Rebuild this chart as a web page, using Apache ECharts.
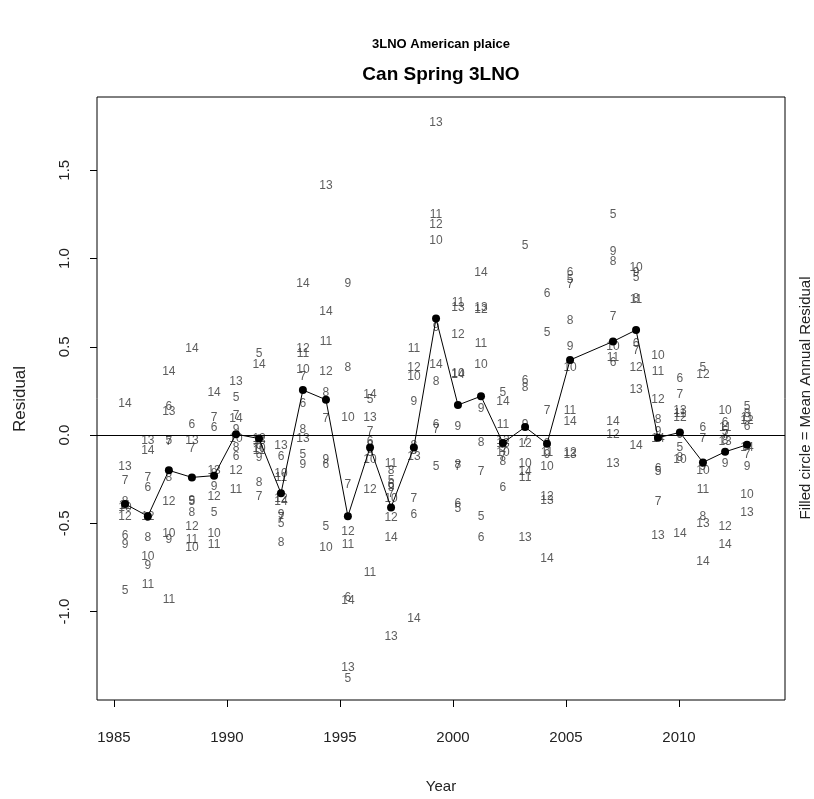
<!DOCTYPE html>
<html>
<head>
<meta charset="utf-8">
<script src="https://cdn.jsdelivr.net/npm/echarts@6/dist/echarts.min.js"></script>
<style>html,body{margin:0;padding:0;background:#fff}#c{width:814px;height:799px}</style>
</head>
<body>
<div id="c"></div>
<script>
// survey years and the plotted x position (decimal year) of each annual group
const years = [1985,1986,1987,1988,1989,1990,1991,1992,1993,1994,1995,1996,1997,1998,1999,2000,2001,2002,2003,2004,2005,2007,2008,2009,2010,2011,2012,2013];
const xPos = [1985.49,1986.50,1987.43,1988.45,1989.43,1990.40,1991.42,1992.39,1993.36,1994.38,1995.35,1996.33,1997.26,1998.27,1999.25,2000.22,2001.24,2002.21,2003.19,2004.16,2005.18,2007.08,2008.10,2009.07,2010.04,2011.06,2012.04,2013.01];
// residuals by age, one value per survey year
const res5  = [-0.88,-0.47,-0.03,-0.38,-0.44,0.21,0.46,-0.50,-0.11,-0.52,-1.38,0.20,-0.26,-0.09,-0.18,-0.42,-0.46,0.24,1.07,0.58,0.88,1.25,0.89,-0.21,-0.07,0.38,0.02,0.16];
const res6  = [-0.57,-0.30,0.16,0.06,0.04,-0.12,-0.06,-0.12,0.18,-0.17,-0.92,-0.04,-0.28,-0.45,0.06,-0.39,-0.58,-0.30,0.31,0.80,0.92,0.41,0.52,-0.19,0.32,0.04,0.07,0.05];
const res7  = [-0.26,-0.24,-0.04,-0.08,0.10,0.11,-0.35,-0.47,0.33,0.09,-0.28,0.02,-0.33,-0.36,0.03,-0.18,-0.21,-0.12,-0.03,0.14,0.85,0.67,0.48,-0.38,0.23,-0.02,0.00,-0.11];
const res8  = [-0.38,-0.58,-0.24,-0.44,-0.22,-0.07,-0.27,-0.61,0.03,0.24,0.38,-0.06,-0.20,-0.06,0.30,-0.17,-0.045,-0.15,0.27,-0.05,0.65,0.98,0.77,0.085,-0.13,-0.46,-0.03,0.12];
const res9  = [-0.62,-0.74,-0.59,-0.37,-0.29,0.03,-0.13,-0.45,-0.17,-0.14,0.86,-0.10,-0.30,0.19,0.61,0.045,0.15,-0.07,0.06,-0.11,0.50,1.04,0.92,0.02,0.00,-0.18,-0.16,-0.18];
const res10 = [-0.41,-0.69,-0.56,-0.64,-0.56,-0.02,-0.08,-0.22,0.37,-0.64,0.10,-0.14,-0.36,0.33,1.10,0.35,0.40,-0.10,-0.16,-0.18,0.38,0.50,0.95,0.45,-0.14,-0.20,0.14,-0.34];
const res11 = [-0.40,-0.85,-0.93,-0.59,-0.62,-0.31,-0.09,-0.24,0.46,0.53,-0.62,-0.78,-0.16,0.49,1.25,0.75,0.52,0.06,-0.24,-0.10,0.14,0.44,0.765,0.36,0.12,-0.31,0.04,0.10];
const res12 = [-0.46,-0.46,-0.38,-0.52,-0.35,-0.20,-0.02,-0.36,0.49,0.36,-0.55,-0.31,-0.47,0.38,1.19,0.57,0.71,-0.03,-0.05,-0.35,-0.10,0.00,0.38,0.20,0.10,0.34,-0.52,0.08];
const res13 = [-0.18,-0.03,0.13,-0.03,-0.20,0.30,-0.03,-0.06,-0.02,1.41,-1.32,0.10,-1.14,-0.12,1.77,0.72,0.72,-0.05,-0.58,-0.37,-0.11,-0.16,0.255,-0.57,0.14,-0.50,-0.04,-0.44];
const res14 = [0.18,-0.09,0.36,0.49,0.24,0.09,0.40,-0.38,0.86,0.70,-0.94,0.23,-0.58,-1.04,0.40,0.34,0.92,0.19,-0.21,-0.70,0.075,0.075,-0.06,-0.02,-0.56,-0.72,-0.62,-0.07];
const ages = [5,6,7,8,9,10,11,12,13,14];
const resByAge = [res5,res6,res7,res8,res9,res10,res11,res12,res13,res14];
// mean annual residual (filled circles)
const meanRes = [-0.39,-0.46,-0.20,-0.24,-0.23,0.005,-0.02,-0.33,0.255,0.20,-0.46,-0.07,-0.41,-0.07,0.66,0.17,0.22,-0.045,0.045,-0.05,0.425,0.53,0.595,-0.015,0.015,-0.155,-0.095,-0.055];
const xTicks = [1985,1990,1995,2000,2005,2010];
const yTicks = [-1.0,-0.5,0.0,0.5,1.0,1.5];

const FONT = '"Liberation Sans", Arial, sans-serif';
const chart = echarts.init(document.getElementById('c'));

const series = ages.map((age, k) => ({
  type: 'scatter',
  name: 'Age ' + age,
  symbolSize: 1,
  itemStyle: { color: 'rgba(0,0,0,0)' },
  silent: true,
  z: 2,
  label: {
    show: true, position: 'inside', formatter: String(age),
    fontSize: 12, fontFamily: FONT, color: '#333'
  },
  data: xPos.map((x, i) => [x, resByAge[k][i]])
}));

series.push({
  type: 'line',
  name: 'Mean',
  z: 5,
  symbol: 'circle',
  symbolSize: 8,
  itemStyle: { color: '#000' },
  lineStyle: { color: '#000', width: 1 },
  data: xPos.map((x, i) => [x, meanRes[i]]),
  markLine: {
    silent: true, symbol: 'none', label: { show: false },
    lineStyle: { color: '#000', type: 'solid', width: 1 },
    data: [{ yAxis: 0 }]
  }
});

chart.setOption({
  animation: false,
  backgroundColor: '#fff',
  grid: { left: 97, right: 29, top: 97, bottom: 99, show: true, borderColor: '#000', borderWidth: 1, backgroundColor: 'transparent' },
  xAxis: {
    type: 'value', min: 1984.25, max: 2014.69,
    axisLine: { show: false, onZero: false }, splitLine: { show: false },
    axisTick: { show: true, length: 7, customValues: xTicks, lineStyle: { color: '#000' } },
    axisLabel: { customValues: xTicks, fontSize: 15, fontFamily: FONT, color: '#222', margin: 30,
      formatter: v => String(v) }
  },
  yAxis: {
    type: 'value', min: -1.501, max: 1.915,
    axisLine: { show: false, onZero: false }, splitLine: { show: false },
    axisTick: { show: true, length: 7, customValues: yTicks, lineStyle: { color: '#000' } },
    axisLabel: { customValues: yTicks, fontSize: 15, fontFamily: FONT, color: '#222', margin: 25, rotate: 90,
      formatter: v => v.toFixed(1) }
  },
  graphic: [
    { type: 'text', x: 441, y: 44, style: { text: '3LNO American plaice', font: 'bold 13px ' + FONT, textAlign: 'center', textVerticalAlign: 'middle', fill: '#000' } },
    { type: 'text', x: 441, y: 75, style: { text: 'Can Spring 3LNO', font: 'bold 19px ' + FONT, textAlign: 'center', textVerticalAlign: 'middle', fill: '#000' } },
    { type: 'text', x: 441, y: 787, style: { text: 'Year', font: '15px ' + FONT, textAlign: 'center', textVerticalAlign: 'middle', fill: '#222' } },
    { type: 'text', x: 20, y: 399, rotation: Math.PI / 2, style: { text: 'Residual', font: '17px ' + FONT, textAlign: 'center', textVerticalAlign: 'middle', fill: '#222' } },
    { type: 'text', x: 806, y: 398, rotation: Math.PI / 2, style: { text: 'Filled circle = Mean Annual Residual', font: '15px ' + FONT, textAlign: 'center', textVerticalAlign: 'middle', fill: '#222' } }
  ],
  series: series
});
</script>
</body>
</html>
